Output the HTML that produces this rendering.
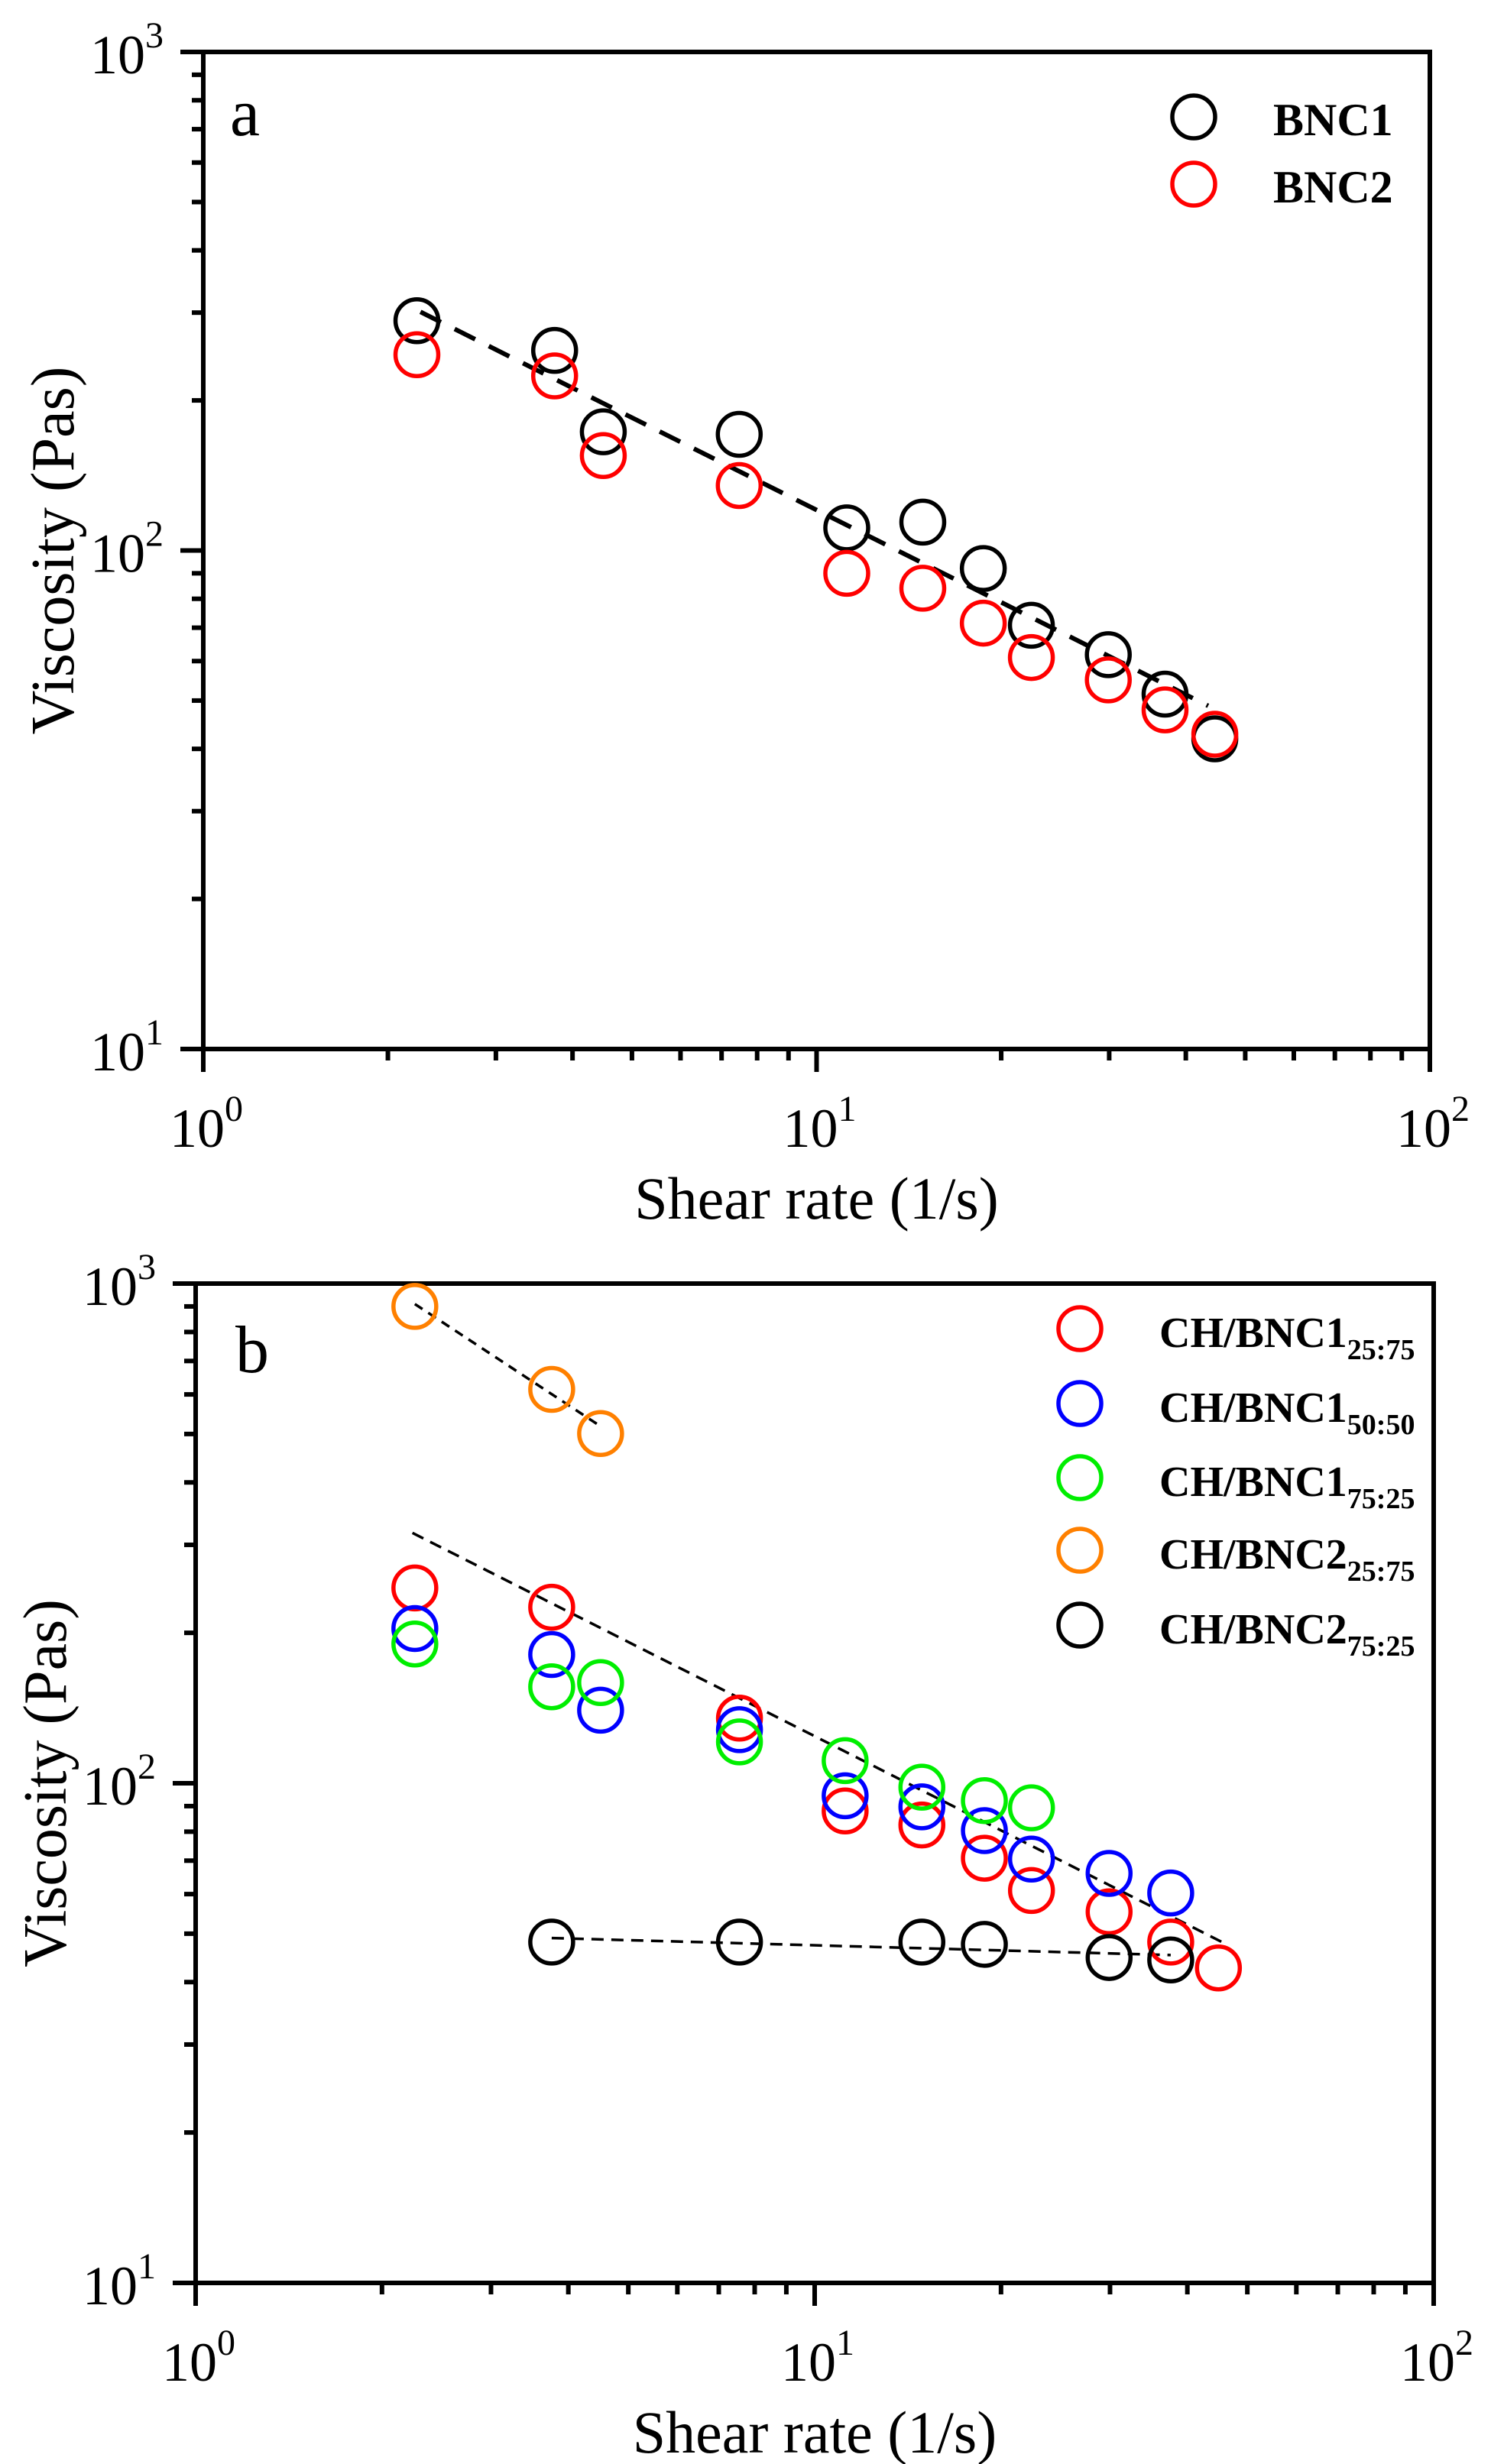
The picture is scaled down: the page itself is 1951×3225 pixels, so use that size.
<!DOCTYPE html>
<html><head><meta charset="utf-8">
<style>
html,body{margin:0;padding:0;background:#fff;}
svg{display:block;font-family:"Liberation Serif",serif;}
</style></head>
<body>
<svg id="chart" width="1951" height="3225" viewBox="0 0 1951 3225" xmlns="http://www.w3.org/2000/svg">
<g id="pa"></g>
<g id="pb"></g>
</svg>
<script>
// ---- data (panel a) ----
const aShear = [2.23, 3.74, 4.49, 7.48, 11.2, 14.9, 18.7, 22.4, 29.9, 37.0, 44.6];
const aBNC1 = [289, 252, 173, 171, 111, 114, 92, 70.8, 61.8, 51.5, 41.9];
const aBNC2 = [247, 224, 155, 135, 90, 84, 71.5, 61, 55, 47.9, 42.8];
const aFitX = [2.26, 43.5];
const aFitY = [301, 48.8];
// ---- data (panel b) ----
const bShear = [2.26, 3.76, 4.51, 7.56, 11.2, 14.9, 18.8, 22.4, 29.9, 37.6, 44.9];
const bRed = [246, 225, null, 135, 88, 82.5, 70.8, 61, 55.3, 48.1, 42.7];
const bBlue = [204, 181, 140, 128, 94.4, 89.7, 80.4, 70.5, 66, 60.3, null];
const bGreen = [190, 156, 159, 121, 111, 98.2, 92.3, 89.3, null, null, null];
const bOrange = [900, 614, 501, null, null, null, null, null, null, null, null];
const bBlack = [null, 48.1, null, 48.1, null, 48.1, 47.6, null, 44.8, 44.3, null];
const bFit1X = [2.26, 4.51], bFit1Y = [910, 518];
const bFit2X = [2.24, 45.5], bFit2Y = [317, 48.1];
const bFit3X = [3.76, 37.6], bFit3Y = [49, 45.3];
const xTicks = [0, 1, 2];
const yTicks = [1, 2, 3];

const NS = "http://www.w3.org/2000/svg";
function mk(parent, tag, attrs){const e=document.createElementNS(NS,tag);for(const k in attrs)e.setAttribute(k,attrs[k]);parent.appendChild(e);return e;}

function panel(g, L, R, T, B, letter, lx, ly){
  const X = v => L + (Math.log10(v)) / 2 * (R - L);
  const Y = v => B - (Math.log10(v) - 1) / 2 * (B - T);
  const frame = mk(g,'rect',{x:L,y:T,width:R-L,height:B-T,fill:'none',stroke:'#000','stroke-width':6});
  
  
  for(let d=0; d<2; d++){
    for(let m=1;m<10;m++){
      const v=Math.pow(10,d)*m; const x=X(v);
      const len = m===1?30:15;
      const t=mk(g,'line',{x1:x,y1:B,x2:x,y2:B+len,stroke:'#000','stroke-width':6});
      
      
    }
  }
  const te=mk(g,'line',{x1:R,y1:B,x2:R,y2:B+30,stroke:'#000','stroke-width':6});
  
  
  for(let d=1; d<3; d++){
    for(let m=1;m<10;m++){
      const v=Math.pow(10,d)*m; const y=Y(v);
      const len = m===1?30:15;
      const t=mk(g,'line',{x1:L,y1:y,x2:L-len,y2:y,stroke:'#000','stroke-width':6});
      
      
    }
  }
  const ty=mk(g,'line',{x1:L,y1:T,x2:L-30,y2:T,stroke:'#000','stroke-width':6});
  
  
  xTicks.forEach(p=>{
    const t=mk(g,'text',{x:X(Math.pow(10,p))+4,y:B+128,'font-size':72,'text-anchor':'middle'});
    
    
    t.innerHTML='10<tspan font-size="48" dy="-34">'+p+'</tspan>';
  });
  yTicks.forEach(p=>{
    const t=mk(g,'text',{x:L-52,y:Y(Math.pow(10,p))+28,'font-size':72,'text-anchor':'end'});
    
    
    t.innerHTML='10<tspan font-size="48" dy="-34">'+p+'</tspan>';
  });
  const xt=mk(g,'text',{x:(L+R)/2,y:B+222,'font-size':78,'text-anchor':'middle'});
  
  
  xt.textContent='Shear rate (1/s)';
  const yt=mk(g,'text',{x:0,y:0,'font-size':80,'text-anchor':'middle',transform:`translate(${L-170},${(T+B)/2}) rotate(-90)`});
  
  
  yt.textContent='Viscosity (Pas)';
  const pl=mk(g,'text',{x:lx,y:ly,'font-size':88});
  
  
  pl.textContent=letter;
  return {X,Y};
}

function series(g,s,xs,ys,color,name){
  xs.forEach((x,i)=>{
    if(ys[i]==null) return;
    const c=mk(g,'circle',{cx:s.X(x),cy:s.Y(ys[i]),r:28,fill:'none',stroke:color,'stroke-width':5.5});
    
    
  });
}
function fit(g,s,xs,ys,w,dash,name){
  const l=mk(g,'line',{x1:s.X(xs[0]),y1:s.Y(ys[0]),x2:s.X(xs[1]),y2:s.Y(ys[1]),stroke:'#000','stroke-width':w,'stroke-dasharray':dash});
  
  
}
function legend(g,x,y,color,label,sub,fs){
  const c=mk(g,'circle',{cx:x,cy:y,r:28,fill:'none',stroke:color,'stroke-width':5.5});
  
  
  const t=mk(g,'text',{x:x+104,y:y+24,'font-size':fs,'font-weight':'bold'});
  
  
  t.innerHTML=label+(sub?'<tspan font-size="38" dy="16">'+sub+'</tspan>':'');
}

const ga=document.getElementById('pa');
const sa=panel(ga,266,1871,68,1373,'a',301,177);
fit(ga,sa,aFitX,aFitY,6,'30 20','fit-line-a');
series(ga,sa,aShear,aBNC1,'#000','bnc1');
series(ga,sa,aShear,aBNC2,'#f00','bnc2');
legend(ga,1562,153,'#000','BNC1',null,60);
legend(ga,1562,241,'#f00','BNC2',null,60);

const gb=document.getElementById('pb');
const sb=panel(gb,256,1876,1680,2988,'b',308,1796);
fit(gb,sb,bFit1X,bFit1Y,3.5,'12 9','fit-line-orange');
fit(gb,sb,bFit2X,bFit2Y,3.5,'16 10','fit-line-ch-bnc1');
fit(gb,sb,bFit3X,bFit3Y,3.5,'16 10','fit-line-black');
series(gb,sb,bShear,bRed,'#f00','ch-bnc1-25-75');
series(gb,sb,bShear,bBlue,'#00f','ch-bnc1-50-50');
series(gb,sb,bShear,bGreen,'#0e0','ch-bnc1-75-25');
series(gb,sb,bShear,bOrange,'#ff8000','ch-bnc2-25-75');
series(gb,sb,bShear,bBlack,'#000','ch-bnc2-75-25');
legend(gb,1413,1739,'#f00','CH/BNC1','25:75',56);
legend(gb,1413,1837,'#00f','CH/BNC1','50:50',56);
legend(gb,1413,1934,'#0e0','CH/BNC1','75:25',56);
legend(gb,1413,2029,'#ff8000','CH/BNC2','25:75',56);
legend(gb,1413,2127,'#000','CH/BNC2','75:25',56);
</script>
</body></html>
